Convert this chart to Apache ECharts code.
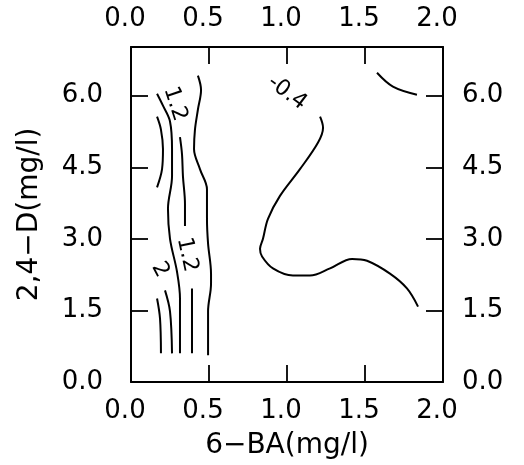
<!DOCTYPE html>
<html>
<head>
<meta charset="utf-8">
<script src="https://cdn.jsdelivr.net/npm/echarts@6/dist/echarts.min.js"></script>
<style>
  html, body { margin: 0; padding: 0; background: #fff; }
  #chart { width: 524px; height: 465px; }
</style>
</head>
<body>
<div id="chart"></div>
<script>
'use strict';

// axis ticks
var xTicks = [0.0, 0.5, 1.0, 1.5, 2.0];
var yTicks = [0.0, 1.5, 3.0, 4.5, 6.0];

// contour lines, [6-BA, 2,4-D]
var lineA = [[0.429, 6.42], [0.449, 6.12], [0.429, 5.71], [0.410, 5.29], [0.404, 4.88], [0.442, 4.46],
    [0.487, 4.04], [0.487, 3.42], [0.494, 2.90], [0.513, 2.27], [0.513, 2.06], [0.494, 1.48], [0.494, 0.56]];
var lineB = [[0.167, 6.04], [0.205, 5.79], [0.250, 5.46], [0.263, 4.88], [0.263, 4.31], [0.237, 3.63],
    [0.250, 3.00], [0.295, 2.31], [0.314, 1.75], [0.314, 0.60]];
var arcLeft = [[0.167, 5.56], [0.192, 5.29], [0.205, 4.88], [0.199, 4.46], [0.167, 4.08]];
var lineCtop = [[0.314, 5.13], [0.327, 4.77], [0.333, 4.31], [0.346, 3.73], [0.346, 3.27]];
var lineCbottom = [[0.391, 1.96], [0.391, 1.33], [0.391, 0.60]];
var lineD = [[0.167, 1.75], [0.186, 1.33], [0.192, 0.60]];
var lineE = [[0.218, 1.92], [0.250, 1.48], [0.263, 0.60]];
var arcTopRight = [[1.577, 6.48], [1.679, 6.19], [1.833, 6.02]];
var curveRight = [[1.212, 5.56], [1.231, 5.33], [1.199, 5.02], [1.083, 4.46], [0.955, 3.90], [0.878, 3.42],
    [0.846, 3.00], [0.827, 2.79], [0.840, 2.63], [0.910, 2.38], [1.038, 2.23], [1.147, 2.23], [1.276, 2.38],
    [1.417, 2.58], [1.513, 2.54], [1.660, 2.27], [1.769, 1.96], [1.840, 1.58]];

// contour level labels
var labelText = ['-0.4', '1.2', '1.2', '2'];
var labelX = [1.00, 0.282, 0.359, 0.186];
var labelY = [6.06, 5.83, 2.67, 2.35];
var labelAngle = [-37, -72, -78, -62];

var contours = [lineA, lineB, arcLeft, lineCtop, lineCbottom, lineD, lineE, arcTopRight, curveRight];

var font = 'DejaVu Sans';
var chart = echarts.init(document.getElementById('chart'));

function xAxisDef(pos, name) {
    return {
        type: 'value', position: pos, min: 0, max: 2, interval: 0.5,
        name: name, nameLocation: 'middle', nameGap: 50,
        nameTextStyle: { color: '#000', fontFamily: font, fontSize: 28 },
        axisLine: { show: true, onZero: false, lineStyle: { color: '#000', width: 2 } },
        axisTick: { show: true, inside: true, length: 17, lineStyle: { color: '#000', width: 1.8 } },
        axisLabel: {
            color: '#000', fontFamily: font, fontSize: 26, margin: 16, padding: [0, 12, 0, 0],
            formatter: function (v) { return v.toFixed(1); }
        },
        splitLine: { show: false }
    };
}

function yAxisDef(pos, name) {
    return {
        type: 'value', position: pos, min: 0, max: 7.02, interval: 1.5,
        name: name, nameLocation: 'middle', nameGap: 87,
        nameTextStyle: { color: '#000', fontFamily: font, fontSize: 28 },
        axisLine: { show: true, onZero: false, lineStyle: { color: '#000', width: 2 } },
        axisTick: { show: true, inside: true, length: 17, lineStyle: { color: '#000', width: 1.8 } },
        axisLabel: {
            color: '#000', fontFamily: font, fontSize: 26, margin: 28, showMaxLabel: false,
            formatter: function (v) { return yTicks.indexOf(v) >= 0 ? v.toFixed(1) : ''; }
        },
        splitLine: { show: false }
    };
}

var series = contours.map(function (pts) {
    return {
        type: 'line', xAxisIndex: 0, yAxisIndex: 0, data: pts,
        smooth: 0.35, showSymbol: false, symbol: 'none', silent: true,
        lineStyle: { color: '#000', width: 2 }
    };
});

series.push({
    type: 'scatter', xAxisIndex: 0, yAxisIndex: 0, symbolSize: 0, silent: true,
    itemStyle: { opacity: 1 },
    data: labelText.map(function (t, i) {
        return {
            value: [labelX[i], labelY[i]],
            label: { show: true, position: 'inside', formatter: t, rotate: labelAngle[i] }
        };
    }),
    label: { color: '#000', opacity: 1, textBorderWidth: 0, fontFamily: font, fontSize: 22 }
});

var rightAxis = yAxisDef('right', '');
rightAxis.axisLabel.margin = 19;
var topAxis = xAxisDef('top', '');
topAxis.axisLabel.margin = 15;

chart.setOption({
    animation: false,
    backgroundColor: '#fff',
    grid: { left: 131, right: 81, top: 47, bottom: 82, containLabel: false },
    xAxis: [xAxisDef('bottom', '6−BA(mg/l)'), topAxis],
    yAxis: [yAxisDef('left', '2,4−D(mg/l)'), rightAxis],
    series: series
});
</script>
</body>
</html>
